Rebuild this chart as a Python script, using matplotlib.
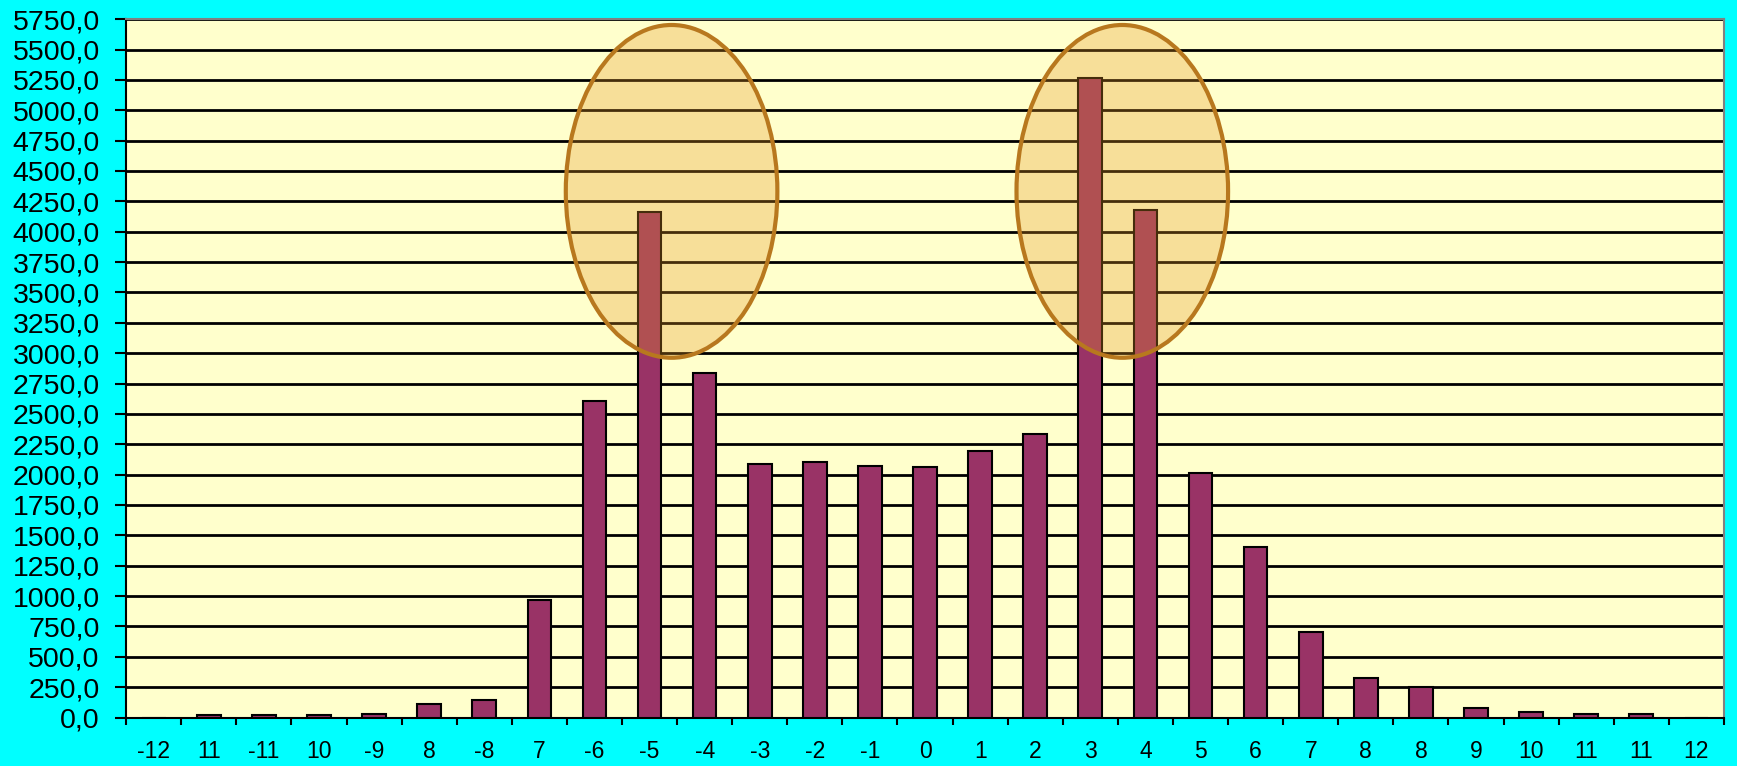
import numpy as np
import matplotlib
matplotlib.use("Agg")
import matplotlib.pyplot as plt
from matplotlib.patches import Ellipse
from matplotlib.ticker import FuncFormatter, FixedLocator

plt.rcParams["font.family"] = ["Liberation Sans", "DejaVu Sans"]

# categories as printed under the axis
labels = ["-12", "11", "-11", "10", "-9", "8", "-8", "7", "-6", "-5", "-4", "-3",
          "-2", "-1", "0", "1", "2", "3", "4", "5", "6", "7", "8", "8", "9",
          "10", "11", "11", "12"]
values = [0, 17, 17, 17, 31, 108, 142, 970, 2607, 4160, 2836, 2087,
          2105, 2068, 2059, 2196, 2334, 5265, 4175, 2014, 1400, 700, 325,
          250, 80, 43, 28, 28, 0]

# highlighted regions: (x centre in category units, y centre, width, height)
highlights = [(9.4, 4332, 3.84, 2740), (17.58, 4332, 3.84, 2740)]

BG = "#00FFFF"
PLOT_BG = "#FFFFCC"
BAR = "#993366"

fig = plt.figure(figsize=(17.37, 7.66), dpi=100, facecolor=BG)
ax = fig.add_axes([0.0726, 0.0633, 0.9199, 0.9117])
ax.set_facecolor(PLOT_BG)

x = np.arange(len(labels))
ax.bar(x, values, width=0.43, color=BAR, edgecolor="black", linewidth=1.5, zorder=3)

for cx, cy, w, h in highlights:
    ax.add_patch(Ellipse((cx, cy), w, h, facecolor="#E79625", alpha=0.3,
                         edgecolor="none", zorder=4))
    ax.add_patch(Ellipse((cx, cy), w, h, facecolor="none", edgecolor="#B8781E",
                         linewidth=3, zorder=5))

ax.set_xlim(-0.5, len(labels) - 0.5)
ax.set_ylim(0, 5750)

yt = np.arange(0, 5751, 250)
ax.set_yticks(yt)
ax.yaxis.set_major_formatter(FuncFormatter(lambda v, p: f"{v:.1f}".replace(".", ",")))
ax.yaxis.grid(True, color="black", linewidth=2, zorder=1)
ax.set_axisbelow(True)

# tick marks on category boundaries, labels at the centres
ax.xaxis.set_major_locator(FixedLocator(np.arange(-0.5, len(labels), 1.0)))
ax.xaxis.set_major_formatter(FuncFormatter(lambda v, p: ""))
ax.xaxis.set_minor_locator(FixedLocator(x))
ax.set_xticklabels(labels, minor=True)
ax.tick_params(axis="x", which="major", length=5, width=1.5, direction="out")
ax.tick_params(axis="x", which="minor", length=0, pad=16, labelsize=16.5)
ax.tick_params(axis="y", length=8, width=1.5, direction="out", labelsize=20.5, pad=11)

for side in ["left", "bottom"]:
    ax.spines[side].set_color("black")
    ax.spines[side].set_linewidth(1.5)
for side in ["top", "right"]:
    ax.spines[side].set_color("#808080")
    ax.spines[side].set_linewidth(1.5)

fig.savefig("out.png", dpi=100, facecolor=BG)
